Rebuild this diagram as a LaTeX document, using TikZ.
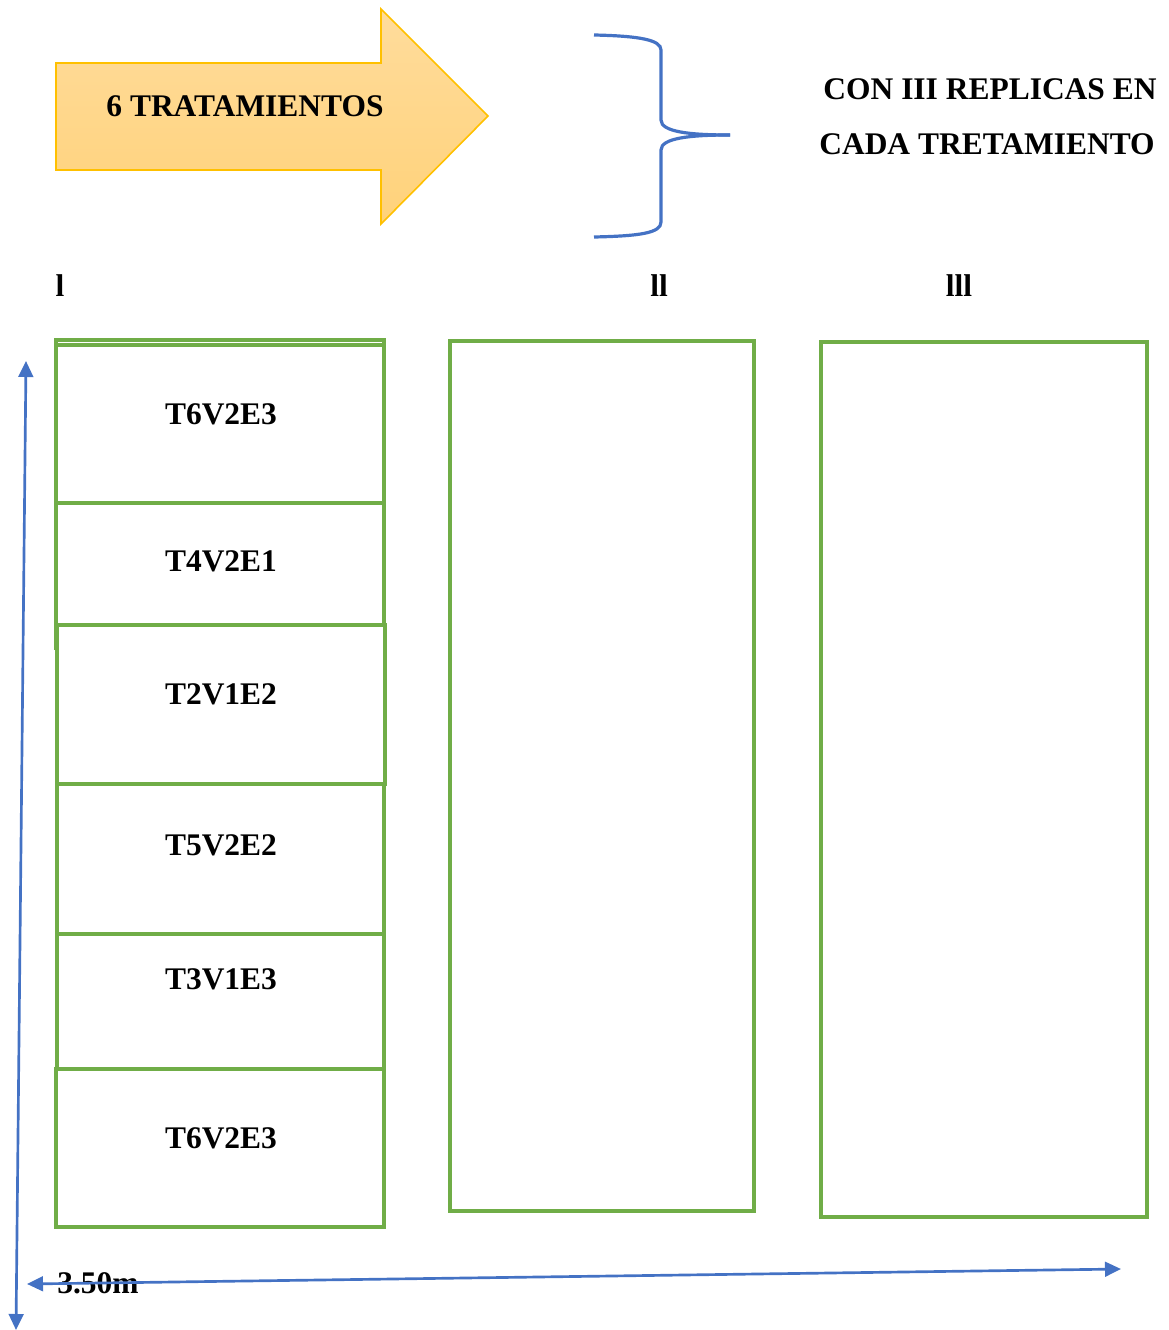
\documentclass[tikz,border=0pt]{standalone}
\usepackage{fontspec}
\setmainfont{Liberation Serif}
\usetikzlibrary{arrows.meta}
\definecolor{gborder}{HTML}{70AD47}
\definecolor{bline}{HTML}{4472C4}
\definecolor{aborder}{HTML}{FFC000}
\definecolor{atop}{HTML}{FFDC9C}
\definecolor{abot}{HTML}{FFD27A}
\tikzset{
  lbl/.style={inner sep=0pt, font=\fontsize{23.6}{28}\selectfont\bfseries},
  plot/.style={draw=gborder, line width=2.3pt, fill=none},
  dim/.style={draw=bline, line width=2pt, {Triangle[length=12pt,width=11pt]}-{Triangle[length=12pt,width=11pt]}},
  bracestyle/.style={draw=bline, line width=2.4pt},
}
\begin{document}
\begin{tikzpicture}[x=0.75pt,y=-0.75pt]
\useasboundingbox (0,0) rectangle (1169,1330);
% big arrow
\path[draw=aborder, line width=1.2pt, top color=atop, bottom color=abot]
  (56,63) -- (381,63) -- (381,9) -- (488,116) -- (381,224) -- (381,170) -- (56,170) -- cycle;
\node[lbl] (trat) at (245,106) {6 TRATAMIENTOS};
% brace
\coordinate (bt) at (594,35);
\coordinate (bm) at (730,135);
\coordinate (bb) at (594,237);
\draw[bracestyle] (bt) .. controls (640,36) and (661,40) .. (661,50)
  -- (661,120) .. controls (661,132) and (690,135) .. (bm);
\draw[bracestyle] (bm) .. controls (690,135) and (661,138) .. (661,150)
  -- (661,222) .. controls (661,233) and (640,236) .. (bb);
\node[lbl] (con1) at (990,89) {CON III REPLICAS EN};
\node[lbl] (con2) at (987,144) {CADA TRETAMIENTO};
% column labels
\node[lbl] (r1) at (60,286) {l};
\node[lbl] (r2) at (659,286) {ll};
\node[lbl] (r3) at (959,286) {lll};
% column I
\draw[plot] (56,650) -- (56,340) -- (384,340) -- (384,503);
\draw[plot] (56,345) rectangle (384,503);
\draw[plot] (56,503) rectangle (384,625);
\draw[plot] (57,625) rectangle (385,784);
\draw[plot] (57,784) rectangle (384,934);
\draw[plot] (57,934) rectangle (384,1069);
\draw[plot] (56,1069) rectangle (384,1227);
\node[lbl] (p1) at (221,414) {T6V2E3};
\node[lbl] (p2) at (221,561) {T4V2E1};
\node[lbl] (p3) at (221,694) {T2V1E2};
\node[lbl] (p4) at (221,845) {T5V2E2};
\node[lbl] (p5) at (221,979) {T3V1E3};
\node[lbl] (p6) at (221,1138) {T6V2E3};
% columns II and III
\draw[plot] (450,341) rectangle (754,1211);
\draw[plot] (821,342) rectangle (1147,1217);
% dimension label
\node[lbl] (dimtxt) at (98,1283) {3.50m};
% dimension arrows
\coordinate (vt) at (26,361);
\coordinate (vb) at (16,1330);
\coordinate (hl) at (27,1284);
\coordinate (hr) at (1121,1269);
\draw[dim] (vb) -- (vt);
\draw[dim] (hl) -- (hr);
\end{tikzpicture}
\end{document}
